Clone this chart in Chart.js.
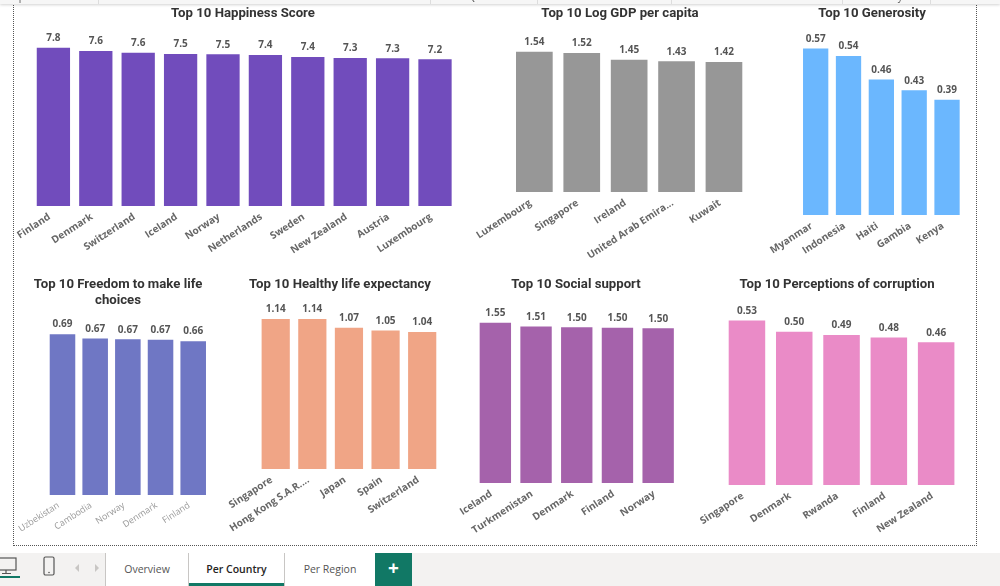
<!DOCTYPE html>
<html><head><meta charset="utf-8">
<script src="https://cdn.jsdelivr.net/npm/chart.js@4"></script>
<style>
html,body{margin:0;padding:0;background:#fff;width:1000px;height:586px;overflow:hidden;font-family:"Open Sans",sans-serif}
canvas{position:absolute}
#top{position:absolute;left:0;top:0;width:1000px;height:4px;background:#f6f6f6;overflow:hidden;box-shadow:0 1px 3px rgba(0,0,0,.18);z-index:3}
#top span{position:absolute;top:-10px;font-size:10px;color:#555;line-height:12px}
#top i{position:absolute;top:0;width:1px;height:4px;background:#ddd}
#frame{position:absolute;left:13px;top:-4px;width:964px;height:550px;border:1px dotted #555;box-sizing:border-box;border-top:0;border-width:0 1.5px 1.5px 1.5px}
#bar{position:absolute;left:0;top:553px;width:1000px;height:33px;background:#f3f2f1}
.tab{position:absolute;top:0;height:33px;background:#fff;border-left:1px solid #c8c6c4;box-sizing:border-box;text-align:center;font-size:10.5px;line-height:33px;color:#555;font-family:"Open Sans"}
#plus{position:absolute;left:375px;top:0;width:37px;height:33px;background:#117865;color:#fff;font:700 19px/30px "Open Sans";text-align:center}
svg{position:absolute}
</style></head><body>
<div id="top"><span style="left:8px">Exposure</span><i style="left:98px"></i><span style="left:255px">Data</span><i style="left:430px"></i><span style="left:468px">Queries</span><i style="left:537px"></i><span style="left:595px">Insert</span><i style="left:671px"></i><span style="left:735px">Calculations</span><i style="left:842px"></i><span style="left:856px">Sensitivity</span><i style="left:930px"></i><span style="left:948px">Share</span></div>
<div id="frame"></div>
<div id="bar">
<svg style="left:0;top:3px" width="20" height="22" viewBox="0 0 20 22"><rect x="-3" y="2" width="19" height="12" fill="none" stroke="#555" stroke-width="1.2"/><path d="M6 14v3M2 17.5h9" stroke="#555" stroke-width="1.2" fill="none"/></svg>
<div style="position:absolute;left:0;top:23px;width:20px;height:2px;background:#117865"></div>
<svg style="left:42px;top:3px" width="14" height="22" viewBox="0 0 14 22"><rect x="2" y="1" width="10" height="18" rx="1.5" fill="none" stroke="#555" stroke-width="1.2"/><circle cx="7" cy="16.5" r=".8" fill="#555"/></svg>
<svg style="left:72px;top:9px" width="30" height="12" viewBox="0 0 30 12"><path d="M7 2L3 6l4 4zM23 2l4 4-4 4z" fill="#c8c6c4"/></svg>
<div class="tab" style="left:105px;width:83px">Overview</div>
<div class="tab" style="left:188px;width:97px;color:#252423;font-weight:600;font-size:10.5px;border-right:1px solid #c8c6c4">Per Country<div style="position:absolute;left:0;right:0;bottom:0;height:3px;background:#117865"></div></div>
<div class="tab" style="left:285px;width:90px;border-left:0">Per Region</div>
<div id="plus">+</div>
</div>

<canvas id="c0"></canvas><canvas id="c1"></canvas><canvas id="c2"></canvas><canvas id="c3"></canvas><canvas id="c4"></canvas><canvas id="c5"></canvas><canvas id="c6"></canvas>

<script>
// ---- data ----
const happinessCountries = ["Finland","Denmark","Switzerland","Iceland","Norway","Netherlands","Sweden","New Zealand","Austria","Luxembourg"];
const happinessValues = [7.809,7.646,7.56,7.504,7.488,7.449,7.353,7.3,7.294,7.238];
const gdpCountries = ["Luxembourg","Singapore","Ireland","United Arab Emira...","Kuwait"];
const gdpValues = [1.537,1.523,1.448,1.433,1.424];
const generosityCountries = ["Myanmar","Indonesia","Haiti","Gambia","Kenya"];
const generosityValues = [0.57,0.544,0.464,0.427,0.394];
const freedomCountries = ["Uzbekistan","Cambodia","Norway","Denmark","Finland"];
const freedomValues = [0.69,0.671,0.668,0.666,0.66];
const healthCountries = ["Singapore","Hong Kong S.A.R....","Japan","Spain","Switzerland"];
const healthValues = [1.14,1.14,1.074,1.054,1.042];
const socialCountries = ["Iceland","Turkmenistan","Denmark","Finland","Norway"];
const socialValues = [1.549,1.511,1.504,1.5,1.495];
const corruptionCountries = ["Singapore","Denmark","Rwanda","Finland","New Zealand"];
const corruptionValues = [0.533,0.496,0.486,0.478,0.462];

const TITLE_FONT = "Roboto";
const LABEL_FONT = "Open Sans";

// ---- per-chart layout ----
// cx: title centre, tt: title top, pl/pr: plot left/right, base: bar baseline, top: tallest bar top
const charts = [
 {t:"Top 10 Happiness Score",l:happinessCountries,v:happinessValues,c:"#714cbc",d:1,cx:243,tt:5.5,pl:32.2,pr:456.2,base:206,top:47.3,bp:.785},
 {t:"Top 10 Log GDP per capita",l:gdpCountries,v:gdpValues,c:"#979797",d:2,cx:620,tt:5.5,pl:510.65,pr:747.65,base:192.3,top:51.3,bp:.774},
 {t:"Top 10 Generosity",l:generosityCountries,v:generosityValues,c:"#6bb7fe",d:2,cx:872,tt:5.5,pl:799.25,pr:963.45,base:215,top:48,bp:.77},
 {t:["Top 10 Freedom to make life","choices"],l:freedomCountries,v:freedomValues,c:"#6f77c4",d:2,cx:118.3,tt:276.5,pl:46.45,pr:209.85,base:495,top:333.7,bp:.782,tc:"#999",tw:"400",ts:9},
 {t:"Top 10 Healthy life expectancy",l:healthCountries,v:healthValues,c:"#f0a586",d:2,cx:339.7,tt:276.5,pl:257.1,pr:440.2,base:469.3,top:318.7,bp:.77},
 {t:"Top 10 Social support",l:socialCountries,v:socialValues,c:"#a562ab",d:2,cx:576,tt:276.5,pl:475,pr:678.5,base:483.3,top:322.3,bp:.771},
 {t:"Top 10 Perceptions of corruption",l:corruptionCountries,v:corruptionValues,c:"#ea8bc7",d:2,cx:836.6,tt:276.5,pl:722.9,pr:959.4,base:485,top:320,bp:.772},
];

const valueLabels = {
 id:"valueLabels",
 afterDatasetsDraw(chart,args,opts){
  const ctx=chart.ctx, ds=chart.data.datasets[0];
  ctx.save();
  ctx.font="700 10px '"+LABEL_FONT+"'";
  ctx.fillStyle="#555";
  ctx.textAlign="center";
  ctx.textBaseline="bottom";
  chart.getDatasetMeta(0).data.forEach((bar,i)=>{
    ctx.fillText(ds.data[i].toFixed(opts.decimals),bar.x,bar.y-4.5);
  });
  ctx.restore();
 }
};
const titleCentre = {
 id:"titleCentre",
 afterLayout(chart){ chart.titleBlock.left=0; chart.titleBlock.right=chart.width; chart.titleBlock.width=chart.width; }
};

const XH = 70, TP = 4, LH = 15.84;
charts.forEach((s,i)=>{
 const half = Math.ceil(Math.max(s.cx-s.pl, s.pr-s.cx)) + 60;
 const left = s.cx-half, width = half*2;
 const lines = Array.isArray(s.t)?s.t.length:1;
 const plotTop = s.tt + lines*LH + TP;
 const plotH = s.base - plotTop;
 const height = s.base - s.tt + XH;
 const cv = document.getElementById("c"+i);
 cv.style.left = left+"px"; cv.style.top = s.tt+"px";
 cv.style.width = width+"px"; cv.style.height = height+"px";
 new Chart(cv,{
  type:"bar",
  data:{labels:s.l,datasets:[{data:s.v,backgroundColor:s.c,barPercentage:s.bp,categoryPercentage:1}]},
  options:{
   responsive:false,animation:false,devicePixelRatio:1,
   layout:{padding:{left:s.pl-left,right:left+width-s.pr,top:0,bottom:0}},
   plugins:{
    legend:{display:false},tooltip:{enabled:false},
    title:{display:true,text:s.t,color:"#333",font:{family:TITLE_FONT,weight:"700",size:13.2,lineHeight:1.2},padding:{top:0,bottom:TP}},
    valueLabels:{decimals:s.d}
   },
   scales:{
    x:{
     grid:{display:false},border:{display:false},
     afterFit(sc){sc.height=XH;sc.paddingLeft=0;sc.paddingRight=0;},
     ticks:{autoSkip:false,minRotation:33,maxRotation:33,padding:-3,labelOffset:-4,color:s.tc||"#666",font:{family:LABEL_FONT,size:s.ts||10,weight:s.tw||"700"}}
    },
    y:{display:false,min:0,max:s.v[0]*plotH/(s.base-s.top)}
   }
  },
  plugins:[valueLabels,titleCentre]
 }).resize(width,height);
});
</script>
</body></html>
